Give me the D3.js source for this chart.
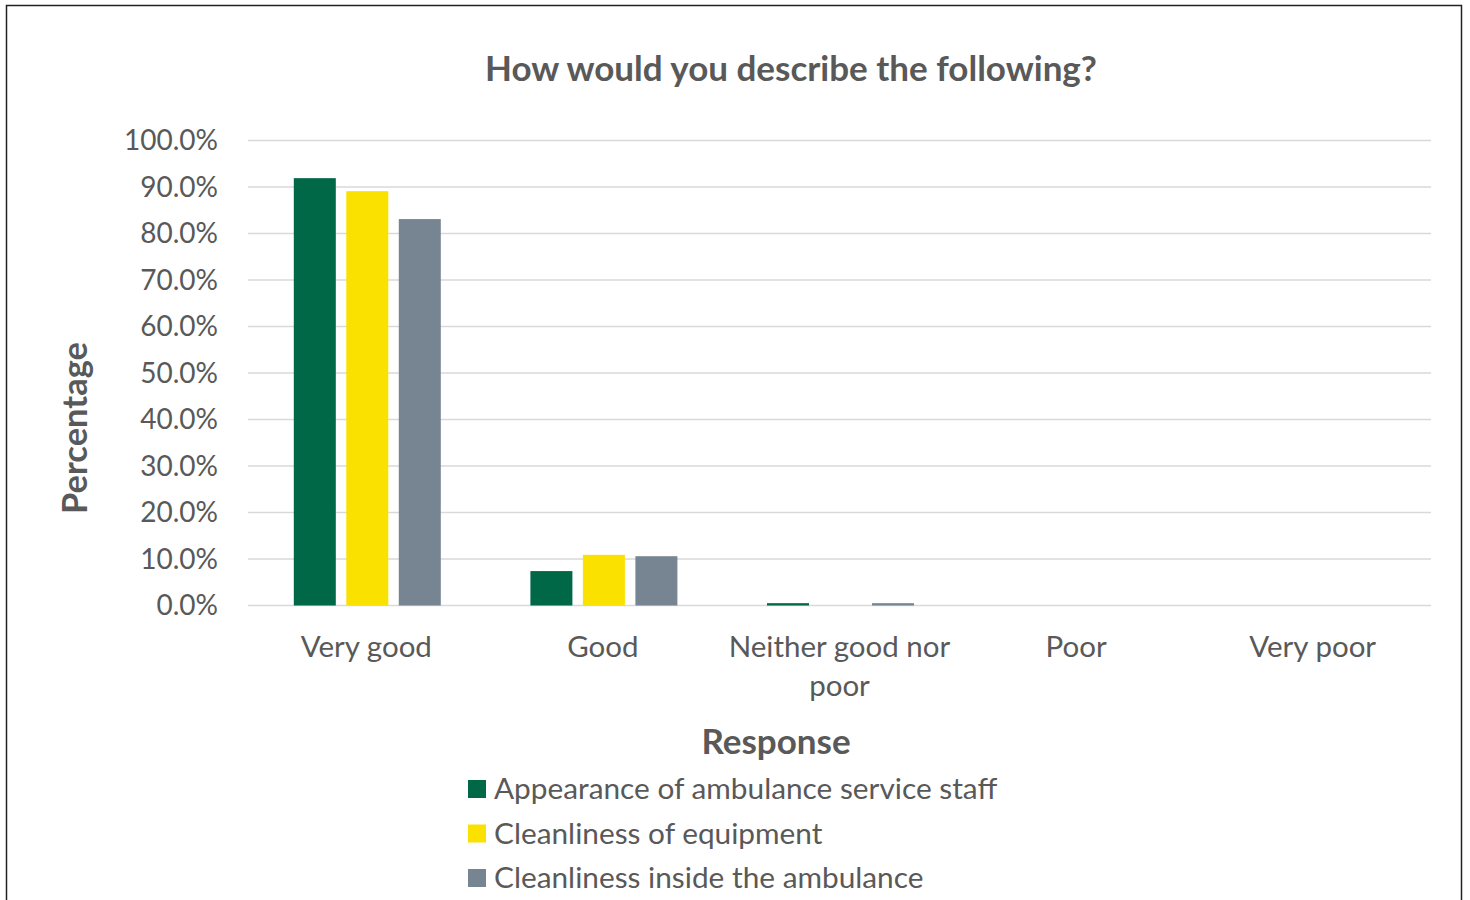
<!DOCTYPE html>
<meta charset="utf-8">
<head>
<title>How would you describe the following?</title>
<script src="https://cdn.jsdelivr.net/npm/d3@7"></script>
<style>
body { margin: 0; background: #fff; }
text { font-family: Lato, "Open Sans", sans-serif; fill: #595959; }
</style>
</head>
<body>
<script>
// Chart data
const categories = ["Very good", "Good", "Neither good nor poor", "Poor", "Very poor"];
const seriesNames = ["Appearance of ambulance service staff", "Cleanliness of equipment", "Cleanliness inside the ambulance"];
const seriesColors = ["#006747", "#fbe100", "#778592"];
const appearance = [91.9, 7.4, 0.5, 0, 0];
const equipment = [89.1, 10.9, 0, 0, 0];
const inside = [83.1, 10.6, 0.5, 0, 0];
const yTicks = [0, 10, 20, 30, 40, 50, 60, 70, 80, 90, 100];

const seriesValues = [appearance, equipment, inside];

const width = 1470, height = 900;
const plot = {left: 248, right: 1431, top: 140.5, bottom: 605.5};

const svg = d3.select("body").append("svg")
    .attr("width", width)
    .attr("height", height);

// Outer chart frame (bottom runs off the image)
svg.append("path")
    .attr("d", "M6.5,905 V5.5 H1461.5 V905")
    .attr("fill", "none")
    .attr("stroke", "#222")
    .attr("stroke-width", 1.5);

const x = d3.scaleBand()
    .domain(categories)
    .range([plot.left, plot.right]);

// bars sit in the middle ~147px of each category band
const groupSpan = 147;
const x1 = d3.scaleBand()
    .domain(d3.range(seriesNames.length))
    .range([(x.bandwidth() - groupSpan) / 2 + 1, (x.bandwidth() + groupSpan) / 2 + 1])
    .paddingInner(0.2);

const y = d3.scaleLinear()
    .domain([0, 100])
    .range([plot.bottom, plot.top]);

// Gridlines
svg.append("g")
    .selectAll("line")
    .data(yTicks)
    .join("line")
    .attr("x1", plot.left)
    .attr("x2", plot.right)
    .attr("y1", d => y(d))
    .attr("y2", d => y(d))
    .attr("stroke", "#d9d9d9")
    .attr("stroke-width", 1.5);

// Y tick labels
svg.append("g")
    .selectAll("text")
    .data(yTicks)
    .join("text")
    .attr("x", 218)
    .attr("y", d => y(d))
    .attr("dy", "0.35em")
    .attr("text-anchor", "end")
    .style("font-size", "28px")
    .text(d => d.toFixed(1) + "%");

// Bars
const groups = svg.append("g")
    .selectAll("g")
    .data(seriesValues)
    .join("g")
    .attr("fill", (d, i) => seriesColors[i]);

groups.each(function(vals, si) {
    d3.select(this).selectAll("rect")
        .data(vals)
        .join("rect")
        .attr("x", (d, ci) => x(categories[ci]) + x1(si))
        .attr("width", x1.bandwidth())
        .attr("y", d => y(d))
        .attr("height", d => y(0) - y(d));
});

// Category labels
const catLabels = svg.append("g")
    .selectAll("text")
    .data(categories)
    .join("text")
    .attr("x", d => x(d) + x.bandwidth() / 2)
    .attr("y", 657)
    .attr("text-anchor", "middle")
    .style("font-size", "29.5px");

catLabels.each(function(d) {
    const t = d3.select(this);
    const lines = d === "Neither good nor poor" ? ["Neither good nor", "poor"] : [d];
    lines.forEach((l, i) => {
        t.append("tspan")
            .attr("x", x(d) + x.bandwidth() / 2)
            .attr("dy", i === 0 ? 0 : 39)
            .text(l);
    });
});

// Title
svg.append("text")
    .attr("x", 791)
    .attr("y", 81)
    .attr("text-anchor", "middle")
    .style("font-size", "35px")
    .style("font-weight", "bold")
    .text("How would you describe the following?");

// Axis titles
svg.append("text")
    .attr("transform", "translate(87,428) rotate(-90)")
    .attr("text-anchor", "middle")
    .style("font-size", "34.5px")
    .style("font-weight", "bold")
    .text("Percentage");

svg.append("text")
    .attr("x", 776)
    .attr("y", 754)
    .attr("text-anchor", "middle")
    .style("font-size", "35px")
    .style("font-weight", "bold")
    .text("Response");

// Legend
const legend = svg.append("g")
    .selectAll("g")
    .data(seriesNames)
    .join("g")
    .attr("transform", (d, i) => `translate(468,${789 + i * 44.5})`);

legend.append("rect")
    .attr("x", 0)
    .attr("y", -9)
    .attr("width", 18)
    .attr("height", 18)
    .attr("fill", (d, i) => seriesColors[i]);

legend.append("text")
    .attr("x", 26)
    .attr("dy", "0.35em")
    .style("font-size", "29.8px")
    .text(d => d);
</script>
</body>
</html>
